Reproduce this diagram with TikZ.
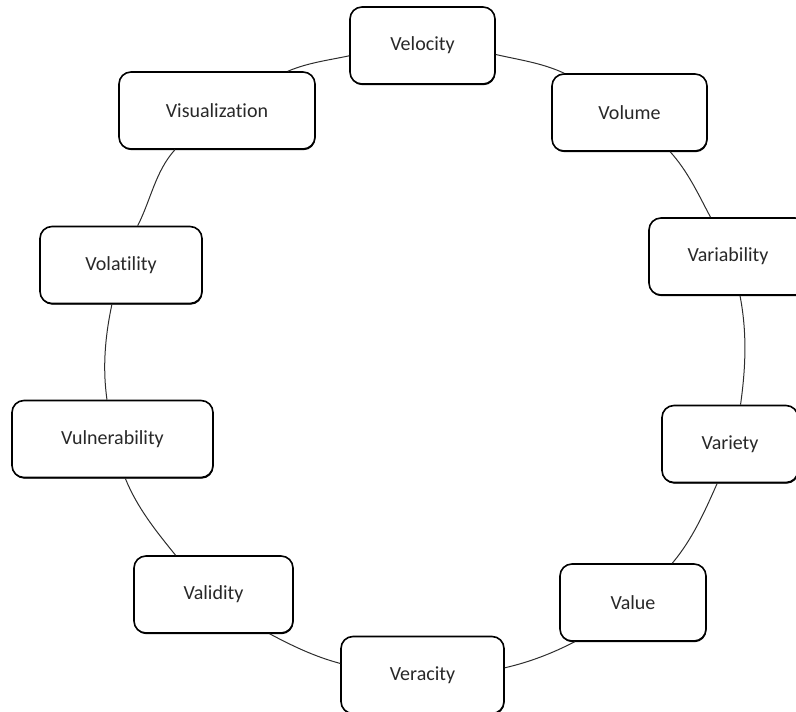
\documentclass[tikz,border=0pt]{standalone}
\usepackage{fontspec}
\setmainfont{Carlito}[Ligatures=NoCommon]
\usetikzlibrary{shadows}
\definecolor{BoxText}{RGB}{40,40,40}
\definecolor{RingClr}{RGB}{45,45,45}

\begin{document}
\begin{tikzpicture}[x=1pt,y=-1pt,
  vbox/.style={draw,line width=1.6pt,rounded corners=12pt,fill=white,
    minimum height=77pt,inner sep=0pt,text=BoxText,
    font=\fontsize{20}{24}\selectfont,
    drop shadow={shadow xshift=.5pt,shadow yshift=-1.2pt,opacity=1,fill=black}},
  ring/.style={draw=RingClr,line width=1pt,looseness=.88}]
\useasboundingbox (0,0) rectangle (796,712);

\node[vbox,minimum width=145pt] (Vel) at (422.5,45.5) {Velocity};
\node[vbox,minimum width=155pt] (Vol) at (629.5,112.5) {Volume};
\node[vbox,minimum width=158pt] (Vab) at (728,256.5) {Variability};
\node[vbox,minimum width=136pt] (Vty) at (730,444) {Variety};
\node[vbox,minimum width=146pt] (Val) at (633,602.5) {Value};
\node[vbox,minimum width=163pt] (Ver) at (422.5,675) {Veracity};
\node[vbox,minimum width=159pt] (Vld) at (213.5,594.5) {Validity};
\node[vbox,minimum width=201pt] (Vul) at (112.5,439) {Vulnerability};
\node[vbox,minimum width=162pt] (Vot) at (121,265) {Volatility};
\node[vbox,minimum width=196pt] (Vis) at (217,110.5) {Visualization};

\draw[ring] (Vel.-7) to[out=-13,in=155] (Vol.149);
\draw[ring] (Vol.-44) to[out=-48,in=118] (Vab.114);
\draw[ring] (Vab.-73) to[out=-79,in=82] (Vty.75);
\draw[ring] (Vty.-108) to[out=-114,in=50] (Val.45);
\draw[ring] (Val.-146) to[out=-153,in=13] (Ver.5);
\draw[ring] (Ver.172) to[out=165,in=-28] (Vld.-35);
\draw[ring] (Vld.134) to[out=129,in=-68] (Vul.-72);
\draw[ring] (Vul.98) to[out=98,in=-102] (Vot.-103);
\draw[ring] (Vot.67) to[out=63,in=-132] (Vis.-137);
\draw[ring] (Vis.29) to[out=23,in=-168] (Vel.188);

\end{tikzpicture}
\end{document}
